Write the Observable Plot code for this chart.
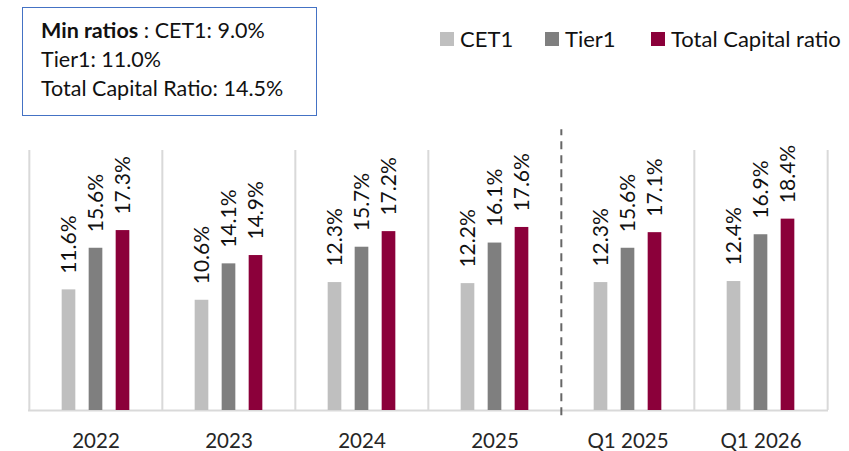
<!DOCTYPE html>
<html>
<head>
<meta charset="utf-8">
<script src="https://cdn.jsdelivr.net/npm/d3@7"></script>
<script src="https://cdn.jsdelivr.net/npm/@observablehq/plot@0.6"></script>
<style>
  body { margin: 0; background: #fff; font-family: Lato, "Open Sans", sans-serif; }
  #wrap { position: relative; width: 849px; height: 451px; overflow: hidden; }
  #note { position: absolute; left: 22px; top: 7px; width: 293px; height: 107px; border: 1.5px solid #4472c4;
          box-sizing: content-box; font-size: 21.5px; line-height: 29px; color: #111; padding: 0; }
  #note div { position: absolute; left: 18px; white-space: nowrap; }
  .leg { position: absolute; top: 24px; font-size: 22px; line-height: 30px; color: #111; white-space: nowrap; }
  .sw { position: absolute; top: 32px; width: 14px; height: 14px; }
  #chart { position: absolute; left: 0; top: 0; }
</style>
</head>
<body>
<div id="wrap">
  <div id="chart"></div>
  <div id="note"></div>
  <div id="legend"></div>
</div>
<script>
const categories = ["2022", "2023", "2024", "2025", "Q1 2025", "Q1 2026"];
const cet1Values = [11.6, 10.6, 12.3, 12.2, 12.3, 12.4];
const tier1Values = [15.6, 14.1, 15.7, 16.1, 15.6, 16.9];
const totalValues = [17.3, 14.9, 17.2, 17.6, 17.1, 18.4];
const seriesNames = ["CET1", "Tier1", "Total Capital ratio"];
const seriesColors = ["#bfbfbf", "#7f7f7f", "#8b003a"];
const noteLines = [["Min ratios", " : CET1: 9.0%"], ["", "Tier1: 11.0%"], ["", "Total Capital Ratio: 14.5%"]];
const dashedBefore = "Q1 2025";

const seriesValues = [cet1Values, tier1Values, totalValues];
const rows = seriesNames.map((s, si) => categories.map((c, ci) => ({cat: c, series: s, value: seriesValues[si][ci], si})));

const W = 849, H = 451;
const mL = 28, mR = 21, mT = 150, mB = 41;
const band = (W - mL - mR) / categories.length;
const barW = 14, step = 27;
const inset = (band - barW) / 2;
const offsets = [-step, 0, step];

const marks = [];
marks.push(Plot.ruleX(categories.filter(c => c !== dashedBefore), {x: d => d, dx: -band / 2, y1: 0, y2: 25, stroke: "#d9d9d9", strokeWidth: 2}));
marks.push(Plot.ruleX([categories[categories.length - 1]], {x: d => d, dx: band / 2, y1: 0, y2: 25, stroke: "#d9d9d9", strokeWidth: 2}));
marks.push(Plot.ruleY([0], {stroke: "#d9d9d9", strokeWidth: 2}));
marks.push(Plot.ruleX([dashedBefore], {x: d => d, dx: -band / 2, y1: -0.5, y2: 27, stroke: "#666666", strokeWidth: 2, strokeDasharray: "8,6"}));
rows.forEach((r, si) => {
  marks.push(Plot.barY(r, {x: "cat", y: "value", fill: seriesColors[si], insetLeft: inset, insetRight: inset, dx: offsets[si]}));
  marks.push(Plot.text(r, {x: "cat", y: "value", text: d => d.value.toFixed(1) + "%", rotate: -90, textAnchor: "start",
    dx: offsets[si], dy: -16, fontSize: 21, fill: "#111", fontFamily: "Lato"}));
});
marks.push(Plot.axisX({tickSize: 0, tickPadding: 23, fontSize: 20.5, fill: "#262626", fontFamily: "Lato"}));

const plot = Plot.plot({
  width: W, height: H,
  marginLeft: mL, marginRight: mR, marginTop: mT, marginBottom: mB,
  style: {fontFamily: "Lato", background: "transparent", overflow: "visible"},
  x: {domain: categories, padding: 0, label: null},
  y: {domain: [0, 25], axis: null},
  marks
});
document.getElementById("chart").appendChild(plot);

const note = document.getElementById("note");
noteLines.forEach((ln, i) => {
  const d = document.createElement("div");
  d.style.top = (8 + i * 29) + "px";
  if (ln[0]) { const b = document.createElement("b"); b.textContent = ln[0]; d.appendChild(b); }
  d.appendChild(document.createTextNode(ln[1]));
  note.appendChild(d);
});

const legend = document.getElementById("legend");
const swX = [440, 545, 651];
seriesNames.forEach((s, i) => {
  const sw = document.createElement("div");
  sw.className = "sw"; sw.style.left = swX[i] + "px"; sw.style.background = seriesColors[i];
  legend.appendChild(sw);
  const t = document.createElement("div");
  t.className = "leg"; t.style.left = (swX[i] + 20) + "px"; t.textContent = s;
  legend.appendChild(t);
});
</script>
</body>
</html>
